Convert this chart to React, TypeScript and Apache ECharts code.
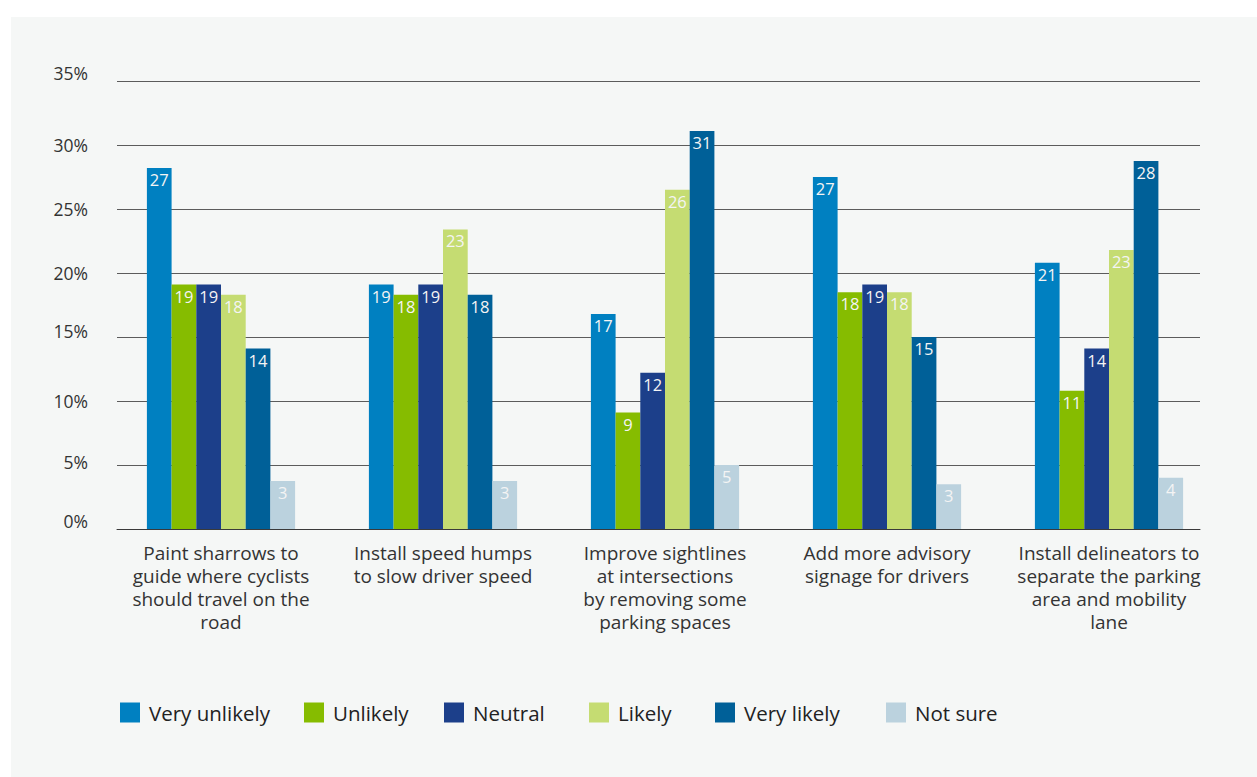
import React, { useEffect, useRef } from "react";
import * as echarts from "echarts";

const categories = [
  "Paint sharrows to\nguide where cyclists\nshould travel on the\nroad",
  "Install speed humps\nto slow driver speed",
  "Improve sightlines\nat intersections\nby removing some\nparking spaces",
  "Add more advisory\nsignage for drivers",
  "Install delineators to\nseparate the parking\narea and mobility\nlane",
];

const seriesNames = ["Very unlikely", "Unlikely", "Neutral", "Likely", "Very likely", "Not sure"];
const seriesColors = ["#0080c1", "#86bc00", "#1c3f8a", "#c5dc72", "#006098", "#bbd2de"];

// bar heights (%)
const veryUnlikely = [28.2, 19.1, 16.8, 27.5, 20.8];
const unlikely = [19.1, 18.3, 9.1, 18.5, 10.8];
const neutral = [19.1, 19.1, 12.2, 19.1, 14.1];
const likely = [18.3, 23.4, 26.5, 18.5, 21.8];
const veryLikely = [14.1, 18.3, 31.1, 15.0, 28.75];
const notSure = [3.75, 3.75, 5.0, 3.5, 4.0];

// printed labels
const veryUnlikelyLabels = [27, 19, 17, 27, 21];
const unlikelyLabels = [19, 18, 9, 18, 11];
const neutralLabels = [19, 19, 12, 19, 14];
const likelyLabels = [18, 23, 26, 18, 23];
const veryLikelyLabels = [14, 18, 31, 15, 28];
const notSureLabels = [3, 3, 5, 3, 4];

const yTicks = [0, 5, 10, 15, 20, 25, 30, 35];

const values = [veryUnlikely, unlikely, neutral, likely, veryLikely, notSure];
const labels = [veryUnlikelyLabels, unlikelyLabels, neutralLabels, likelyLabels, veryLikelyLabels, notSureLabels];

const FONT = "'Open Sans', 'Noto Sans', sans-serif";

export default function App() {
  const ref = useRef<HTMLDivElement>(null);
  useEffect(() => {
    if (!ref.current) return;
    const chart = echarts.init(ref.current, null, { renderer: "svg" });
    const legendLefts = [120, 304, 444, 589, 715, 886];
    const tickShift: Record<number, string> = { 0: "u8", 5: "u3", 15: "u6", 35: "u8" };
    const option: any = {
      animation: false,
      grid: [
        { left: 117, right: 57, top: 81, height: 448 },
        { left: 110, right: 37, top: 81, height: 448 },
      ],
      xAxis: [
        {
          type: "category",
          gridIndex: 0,
          data: categories,
          axisLine: { show: true, lineStyle: { color: "#3a3a3a", width: 1 } },
          axisTick: { show: false },
          axisLabel: { show: false },
        },
        {
          type: "category",
          gridIndex: 1,
          data: categories,
          axisLine: { show: false },
          axisTick: { show: false },
          axisLabel: {
            color: "#333",
            fontFamily: FONT,
            fontSize: 19,
            lineHeight: 23,
            margin: 12,
            interval: 0,
          },
        },
      ],
      yAxis: [
        {
          type: "value",
          gridIndex: 0,
          min: 0,
          max: yTicks[yTicks.length - 1],
          interval: 5,
          axisLine: { show: false },
          axisTick: { show: false },
          splitLine: { show: true, lineStyle: { color: "#5c5c5c", width: 1 } },
          axisLabel: {
            formatter: (v: number) => "{" + (tickShift[v] || "u0") + "|" + v + "%}",
            color: "#333",
            fontFamily: FONT,
            fontSize: 17.5,
            margin: 29,
            verticalAlign: "middle",
            rich: {
              u0: { color: "#333", fontFamily: FONT, fontSize: 17.5, padding: [0, 0, 0, 0] },
              u3: { color: "#333", fontFamily: FONT, fontSize: 17.5, padding: [0, 0, 6, 0] },
              u6: { color: "#333", fontFamily: FONT, fontSize: 17.5, padding: [0, 0, 12, 0] },
              u8: { color: "#333", fontFamily: FONT, fontSize: 17.5, padding: [0, 0, 16, 0] },
            },
          },
        },
        {
          type: "value",
          gridIndex: 1,
          min: 0,
          max: yTicks[yTicks.length - 1],
          interval: 5,
          show: false,
          splitLine: { show: false },
        },
      ],
      legend: seriesNames.map((n, i) => ({
        data: [{ name: n, icon: "rect" }],
        left: legendLefts[i],
        top: 702,
        padding: 0,
        itemWidth: 20,
        itemHeight: 20,
        textStyle: {
          color: "#222",
          fontFamily: FONT,
          fontSize: 20.5,
          padding: [0, 0, 0, 4],
        },
      })),
      series: seriesNames.map((n, i) => ({
        name: n,
        type: "bar",
        xAxisIndex: 1,
        yAxisIndex: 1,
        data: values[i],
        barWidth: 24.7,
        barGap: "0%",
        itemStyle: { color: seriesColors[i] },
        label: {
          show: true,
          position: "insideTop",
          distance: 3,
          color: "#f4f4f4",
          fontFamily: FONT,
          fontSize: 16.5,
          formatter: (p: any) => String(labels[i][p.dataIndex]),
        },
      })),
    };
    chart.setOption(option);
    return () => chart.dispose();
  }, []);
  return (
    <div style={{ position: "fixed", left: 0, top: 0, width: 1257, height: 777, background: "#ffffff" }}>
      <div style={{ position: "absolute", left: 11, top: 17, right: 0, bottom: 0, background: "#f5f7f6" }} />
      <div ref={ref} style={{ position: "absolute", left: 0, top: 0, width: 1257, height: 777 }} />
    </div>
  );
}
